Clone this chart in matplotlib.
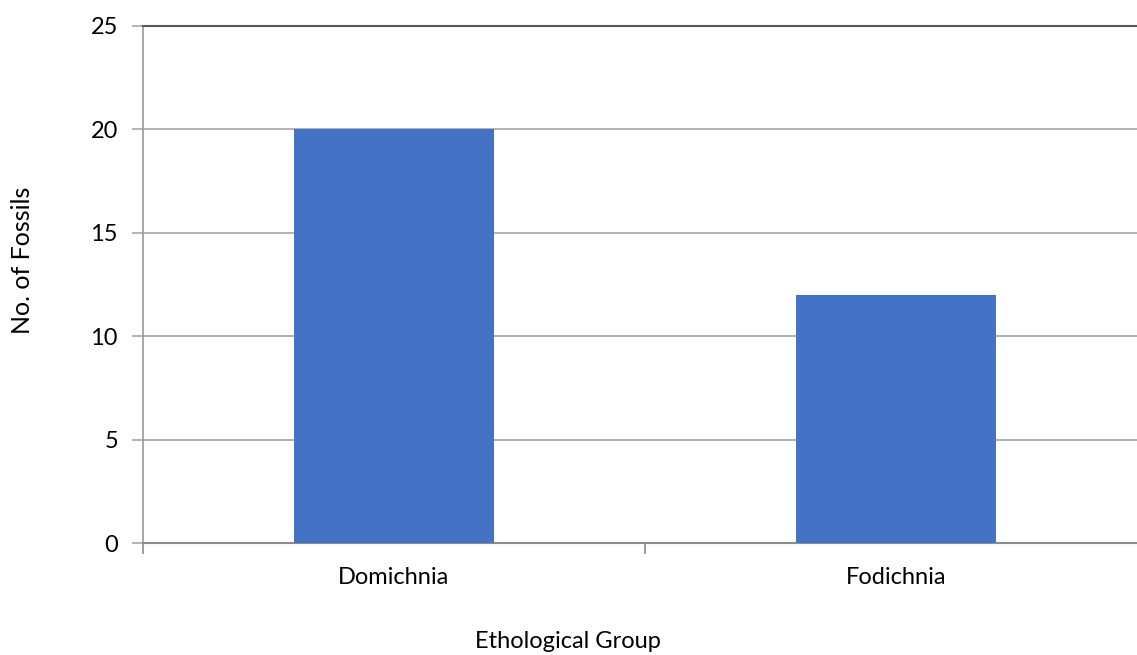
import matplotlib
matplotlib.use("Agg")
import matplotlib.pyplot as plt
import numpy as np

groups = ["Domichnia", "Fodichnia"]
fossil_counts = [20, 12]
y_ticks = [0, 5, 10, 15, 20, 25]

plt.rcParams['font.family'] = ['Lato', 'DejaVu Sans']

fig = plt.figure(figsize=(11.37, 6.55), dpi=100)
ax = fig.add_axes([143 / 1137, 1 - 543 / 655, 1004 / 1137, (543 - 26) / 655])

x = np.arange(len(groups))
ax.bar(x, fossil_counts, width=0.4, color="#4472c4", zorder=3)

ax.set_xlim(-0.5, len(groups) - 0.5)
ax.set_ylim(0, 25)
ax.set_yticks(y_ticks)
ax.set_xticks(x)
ax.set_xticklabels(groups)
ax.set_xticks(np.arange(len(groups) + 1) - 0.5, minor=True)

ax.grid(axis="y", color="#a6a6a6", linewidth=1.2, zorder=0)
ax.tick_params(axis="x", which="major", length=0, pad=17, labelsize=17)
ax.tick_params(axis="x", which="minor", length=8, width=1.2, color="#8c8c8c", direction="out")
ax.tick_params(axis="y", length=8, width=1.2, color="#a6a6a6", pad=10, labelsize=17)

ax.spines["right"].set_visible(False)
ax.spines["top"].set_color("#595959")
ax.spines["top"].set_linewidth(1.5)
ax.spines["left"].set_color("#999999")
ax.spines["left"].set_linewidth(1.2)
ax.spines["bottom"].set_color("#8c8c8c")
ax.spines["bottom"].set_linewidth(1.5)

fig.text(23 / 1137, 1 - 260 / 655, "No. of Fossils", rotation=90, ha="center", va="center", fontsize=18)
fig.text(568 / 1137, 1 - 641 / 655, "Ethological Group", ha="center", va="center", fontsize=17)

fig.savefig("out.png", dpi=100)
